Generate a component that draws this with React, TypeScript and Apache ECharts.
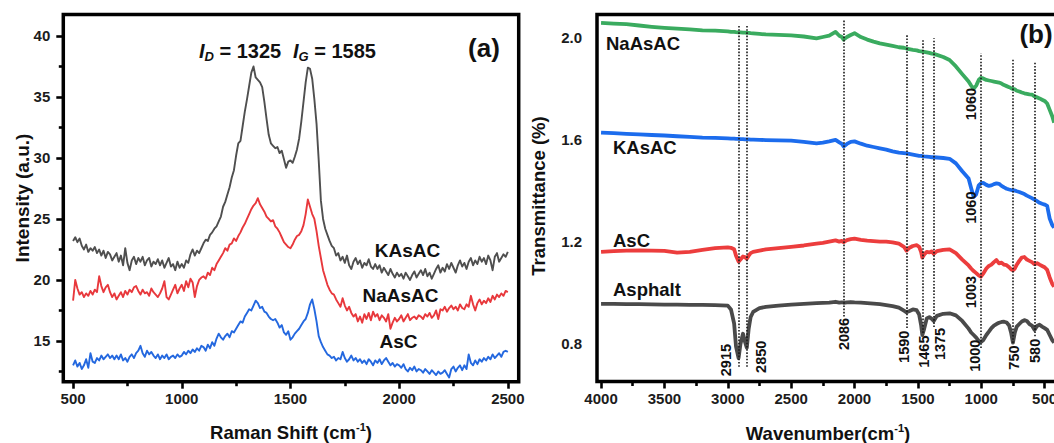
import React, { useEffect, useRef } from 'react';
import * as echarts from 'echarts';

const FONT = '"Liberation Sans", Arial, Helvetica, sans-serif';

// ---------- (a) Raman spectra, sampled every 10 cm-1 from 500 to 2500 ----------
const RAMAN_SHIFT = Array.from({ length: 201 }, (_, i) => 500 + i * 10);

const RAMAN_KASAC = [
  23.2, 23.5, 23.1, 23.4, 22.8, 22.5, 22.9, 22.3, 22.6, 22.4,
  22.7, 22.2, 22.5, 22.0, 22.4, 21.8, 22.3, 22.1, 21.6, 21.9,
  22.2, 21.5, 22.0, 21.2, 22.6, 21.4, 20.8, 21.6, 21.9, 21.3,
  21.8, 21.5, 21.9, 21.2, 21.6, 21.8, 21.1, 21.5, 21.3, 21.7,
  21.2, 21.6, 21.0, 21.4, 21.8, 21.1, 21.3, 20.8, 21.5, 21.0,
  21.3, 21.0, 21.6, 21.4, 22.1, 22.5, 22.0, 22.4, 22.2, 22.6,
  23.0, 23.3, 23.2, 23.7, 23.9, 24.2, 24.4, 24.8, 25.2, 26.0,
  26.4, 27.0, 27.6, 28.4, 29.0, 30.2, 31.2, 31.4, 32.6, 33.8,
  34.8, 35.9, 37.0, 37.5, 36.6, 36.4, 36.2, 35.8, 34.6, 33.2,
  31.9, 31.2, 31.0, 30.8, 30.9, 30.4, 30.6, 29.9, 29.2, 29.7,
  29.8, 29.6, 30.1, 30.7, 31.6, 33.0, 34.6, 36.2, 37.4, 37.3,
  36.5, 34.8, 32.8, 29.8, 26.5, 25.0, 24.2, 23.7, 23.2, 22.8,
  22.6, 22.0, 22.2, 21.6, 21.9, 21.4, 22.0, 21.2, 20.9, 21.5,
  21.8, 21.3, 21.6, 21.0, 21.4, 21.2, 21.7, 21.1, 20.9, 21.3,
  20.9, 21.2, 20.6, 21.0, 20.7, 20.4, 20.9, 20.5, 20.2, 20.6,
  20.3, 20.5, 20.1, 20.6, 20.3, 20.0, 20.4, 20.7, 20.2, 20.5,
  20.8, 20.4, 20.9, 20.3, 20.6, 20.1, 20.5, 20.9, 21.2, 20.6,
  21.0, 20.7, 21.3, 20.9, 21.4, 21.0, 20.6, 21.2, 21.6, 21.1,
  21.4, 20.9, 21.5, 21.8, 21.2, 21.6, 21.3, 21.9, 21.5, 21.8,
  21.3, 22.0, 21.6, 20.8, 21.9, 22.2, 21.5, 21.8, 22.1, 21.9,
  22.3,
];

const RAMAN_NAASAC = [
  18.3, 20.0, 19.3, 18.8, 19.0, 18.6, 18.9, 18.7, 19.1, 18.8,
  19.2, 19.0, 20.3, 19.5, 19.0, 19.4, 19.6, 19.0, 18.6, 18.9,
  18.4, 18.7, 19.0, 18.6, 19.1, 18.8, 19.2, 19.0, 19.4, 19.5,
  19.1, 18.8, 19.2, 18.9, 19.0, 18.7, 19.3, 19.0, 18.8, 18.6,
  18.9, 19.3, 19.9, 18.6, 18.4, 18.8, 19.2, 19.6, 18.9, 19.3,
  19.6, 19.1, 19.9, 19.4, 20.1, 19.8, 18.6, 19.5, 20.0, 20.2,
  20.3, 20.1, 20.6, 20.4, 21.0, 20.8, 21.3, 21.6, 21.9, 22.2,
  22.6, 22.4, 22.9, 23.0, 23.4, 23.2, 23.6, 23.9, 24.3, 24.6,
  25.0, 25.4, 25.8, 26.1, 26.3, 26.7, 26.2, 25.9, 25.6, 25.2,
  25.0, 24.8, 24.9, 24.4, 24.2, 23.9, 23.5, 23.1, 22.9, 22.7,
  22.6, 22.9, 23.3, 23.6, 23.7, 24.0, 24.5, 25.4, 26.6, 26.0,
  25.4, 25.0, 24.0, 22.8, 21.8, 20.8, 20.2, 19.6, 19.2, 18.9,
  18.8, 18.4, 18.1, 17.8, 18.5, 17.9, 17.5, 17.8, 17.3, 17.0,
  17.2, 16.6, 17.0, 16.5, 17.2, 16.8, 17.3, 16.7, 17.4, 17.0,
  17.2, 16.7, 17.1, 16.9, 16.6, 17.2, 16.0, 16.5, 16.9, 16.6,
  16.8, 17.1, 16.6, 16.9, 17.2, 16.7, 16.9, 17.0, 16.8, 17.1,
  17.0, 16.8, 17.2, 17.0, 17.3, 16.9, 17.1, 17.5, 16.8, 17.6,
  17.5, 17.8, 17.4, 17.7, 17.9, 17.6, 17.8, 17.5, 18.0, 17.7,
  17.6, 18.0, 17.8, 18.7, 18.0, 17.5, 18.1, 18.4, 18.0, 18.3,
  18.1, 18.5, 18.2, 18.7, 18.4, 18.8, 18.6, 18.9, 18.7, 19.1,
  19.0,
];

const RAMAN_ASC = [
  13.0, 13.4, 12.9, 13.2, 12.7, 13.0, 13.5, 12.8, 14.0, 13.3,
  13.2, 13.6, 13.4, 13.8, 13.5, 13.7, 13.9, 13.6, 13.8, 13.5,
  13.8, 13.5, 13.9, 13.4, 13.6, 13.3, 13.7, 13.9, 13.6, 14.0,
  14.2, 14.6, 14.0, 13.7, 14.2, 13.9, 14.1, 13.8, 13.6, 13.9,
  13.5, 13.8, 13.6, 13.9, 13.5, 13.7, 13.8, 13.6, 13.9, 13.7,
  13.8, 14.1, 13.9, 14.2, 14.0, 14.3, 14.1, 14.4, 14.2, 14.6,
  14.5, 14.2, 14.7, 14.4, 14.9, 14.6, 15.2, 15.6, 15.3, 15.1,
  15.4, 15.6, 15.3, 15.8, 15.7, 16.0, 16.3, 16.6, 16.5, 17.0,
  17.3, 17.6, 17.5, 17.9, 18.3, 18.1, 17.7, 17.8, 17.4, 17.3,
  17.0, 16.8, 16.7, 16.8, 16.5, 16.1, 16.3, 15.7, 15.5, 15.8,
  15.1, 15.3, 15.6, 15.8, 16.0, 16.3, 16.6, 16.8, 17.3, 18.0,
  18.4, 17.6, 16.6, 15.4, 14.9, 14.5, 14.2, 13.9, 13.8, 13.6,
  13.7, 13.4, 13.6, 13.5, 14.1, 13.6, 13.3, 13.5, 13.8, 13.4,
  13.6, 13.3, 13.5, 13.2, 13.4, 13.1, 13.5, 13.3, 13.0, 13.4,
  13.2, 13.5, 13.1, 13.4, 13.6, 13.3, 13.0, 13.2, 12.9, 13.1,
  13.0, 12.8, 13.1, 12.7, 12.5, 12.8, 12.6, 12.9, 12.5, 12.7,
  12.6, 12.4, 12.7, 12.5, 12.3, 12.6, 12.4, 12.2, 12.5, 12.3,
  12.4, 12.6, 12.3, 12.0, 12.7, 12.9, 12.5, 12.8, 13.0, 12.6,
  13.0, 12.7, 13.9, 13.2, 13.0, 13.4, 13.1, 13.5, 13.3, 13.6,
  13.4, 13.7, 13.5, 13.9, 13.6, 13.8, 14.0, 13.7, 14.1, 14.2,
  14.1,
];

const RAMAN_X_LABELS = [500, 1000, 1500, 2000, 2500];
const RAMAN_X_MINOR = [750, 1250, 1750, 2250];
const RAMAN_Y_LABELS = [15, 20, 25, 30, 35, 40];
const RAMAN_Y_MINOR = [12.5, 17.5, 22.5, 27.5, 32.5, 37.5];

// ---------- (b) FTIR spectra ----------
const FTIR_WAVENUMBER = [
  4000, 3900, 3800, 3700, 3600, 3500, 3400, 3300, 3200, 3100,
  3000, 2975, 2950, 2935, 2915, 2900, 2880, 2865, 2850, 2835,
  2820, 2800, 2750, 2700, 2600, 2500, 2400, 2300, 2250, 2200,
  2150, 2120, 2100, 2086, 2060, 2030, 2000, 1950, 1900, 1850,
  1800, 1750, 1700, 1650, 1610, 1590, 1570, 1540, 1510, 1490,
  1475, 1465, 1450, 1430, 1410, 1390, 1375, 1350, 1300, 1250,
  1200, 1150, 1100, 1080, 1060, 1040, 1020, 1003, 985, 960,
  940, 920, 900, 880, 860, 840, 820, 800, 780, 765,
  750, 735, 720, 700, 680, 660, 640, 620, 600, 580,
  560, 540, 520, 500, 480, 460, 440, 425,
];

const FTIR_NAASAC = [
  2.055, 2.052, 2.05, 2.045, 2.04, 2.036, 2.033, 2.03, 2.026, 2.025,
  2.022, 2.02, 2.02, 2.019, 2.018, 2.018, 2.017, 2.017, 2.016, 2.016,
  2.015, 2.014, 2.012, 2.01, 2.008, 2.006, 2.002, 1.995, 2.0, 2.005,
  2.02, 2.005, 2.0, 1.99, 2.0, 2.008, 2.015, 2.0, 1.99, 1.982,
  1.975, 1.97, 1.965, 1.96, 1.958, 1.955, 1.953, 1.95, 1.948, 1.945,
  1.944, 1.943, 1.942, 1.94, 1.938, 1.935, 1.934, 1.93, 1.922, 1.91,
  1.885, 1.855, 1.826, 1.81, 1.798, 1.81, 1.832, 1.84, 1.838, 1.832,
  1.83, 1.828, 1.826, 1.824, 1.822, 1.818, 1.812, 1.808, 1.804, 1.8,
  1.797, 1.795, 1.79, 1.787, 1.783, 1.78, 1.778, 1.776, 1.775, 1.768,
  1.764, 1.76, 1.755, 1.75, 1.74, 1.715, 1.69, 1.665,
];

const FTIR_KASAC = [
  1.626, 1.624, 1.621, 1.619, 1.617, 1.615, 1.612, 1.61, 1.607, 1.606,
  1.604, 1.603, 1.603, 1.602, 1.602, 1.601, 1.601, 1.6, 1.6, 1.6,
  1.599, 1.599, 1.598, 1.597, 1.596, 1.595, 1.59, 1.584, 1.587, 1.592,
  1.598, 1.588, 1.582, 1.572, 1.582, 1.59, 1.592, 1.583, 1.575, 1.57,
  1.565, 1.56, 1.553, 1.548, 1.546, 1.545, 1.543, 1.54, 1.537, 1.535,
  1.535, 1.534, 1.533, 1.532, 1.531, 1.53, 1.53, 1.529, 1.527, 1.524,
  1.506, 1.475, 1.447, 1.41, 1.375, 1.385, 1.42, 1.428, 1.43, 1.422,
  1.418, 1.42, 1.425, 1.428, 1.426, 1.418, 1.412, 1.407, 1.404, 1.402,
  1.4, 1.4, 1.397, 1.394, 1.39, 1.386, 1.38, 1.375, 1.37, 1.364,
  1.358, 1.352, 1.348, 1.345, 1.34, 1.29, 1.265, 1.255,
];

const FTIR_ASC = [
  1.16, 1.163, 1.165, 1.166, 1.165, 1.164, 1.157, 1.16, 1.168, 1.175,
  1.178, 1.176, 1.17, 1.145, 1.122, 1.13, 1.142, 1.14, 1.133, 1.145,
  1.155, 1.16, 1.165, 1.17, 1.175, 1.18, 1.185, 1.192, 1.195, 1.2,
  1.205, 1.2, 1.203, 1.198, 1.206, 1.21, 1.212, 1.207, 1.204, 1.202,
  1.2, 1.2, 1.197, 1.192, 1.18, 1.165, 1.175, 1.183, 1.186, 1.18,
  1.16, 1.138, 1.15, 1.16, 1.158, 1.162, 1.152, 1.163, 1.168, 1.17,
  1.155, 1.13, 1.107, 1.095, 1.085, 1.077, 1.068, 1.063, 1.075, 1.095,
  1.105, 1.11, 1.12, 1.128, 1.115, 1.118, 1.11, 1.108, 1.1, 1.092,
  1.088, 1.095, 1.11, 1.125, 1.138, 1.14, 1.13, 1.125, 1.12, 1.112,
  1.116, 1.11, 1.105, 1.1, 1.09, 1.06, 1.035, 1.024,
];

const FTIR_ASPHALT = [
  0.957, 0.957, 0.956, 0.956, 0.955, 0.954, 0.954, 0.953, 0.953, 0.952,
  0.95, 0.935, 0.88, 0.79, 0.745, 0.8, 0.84, 0.81, 0.785, 0.86,
  0.905, 0.925, 0.94, 0.945, 0.95, 0.954, 0.957, 0.96, 0.961, 0.962,
  0.965, 0.962, 0.963, 0.961, 0.963, 0.964, 0.963, 0.962, 0.96, 0.958,
  0.956, 0.952, 0.948, 0.942, 0.93, 0.924, 0.928, 0.935, 0.932, 0.915,
  0.875, 0.835, 0.86, 0.9, 0.905, 0.898, 0.89, 0.91, 0.918, 0.92,
  0.912, 0.89, 0.86, 0.845, 0.835, 0.825, 0.812, 0.808, 0.815, 0.835,
  0.848, 0.862, 0.872, 0.878, 0.883, 0.886, 0.887, 0.884, 0.872, 0.845,
  0.805, 0.845, 0.868, 0.878, 0.888, 0.893, 0.89, 0.878, 0.872, 0.855,
  0.87, 0.875, 0.868, 0.862, 0.855, 0.835, 0.815, 0.805,
];

const FTIR_X_LABELS = [500, 1000, 1500, 2000, 2500, 3000, 3500, 4000];
const FTIR_X_MINOR = [750, 1250, 1750, 2250, 2750, 3250, 3750];
const FTIR_Y_LABELS = [0.8, 1.2, 1.6, 2.0];
const FTIR_Y_MINOR = [1.0, 1.4, 1.8];

// Assigned bands: dotted guide from `from` to `to` (transmittance)
const BAND_WAVENUMBERS = [2915, 2850, 2086, 1590, 1465, 1375, 1003, 750, 580];
const BAND_FROM = [0.711, 0.711, 0.907, 0.862, 0.843, 0.866, 0.784, 0.804, 0.83];
const BAND_TO = [2.047, 2.047, 2.069, 2.008, 1.988, 1.995, 1.936, 1.917, 1.903];

// Band captions: text, band wavenumber, transmittance at caption centre, sideways nudge in px
const BAND_CAPTIONS: [string, number, number, number][] = [
  ['2915', 2915, 0.737, -12.5],
  ['2850', 2850, 0.75, 14],
  ['2086', 2086, 0.839, 0],
  ['1590', 1590, 0.789, -2.5],
  ['1465', 1465, 0.77, 1.5],
  ['1375', 1375, 0.8, 6],
  ['1000', 1003, 0.754, -5.5],
  ['750', 750, 0.747, 1],
  ['580', 580, 0.773, 1],
  ['1003', 1003, 1.003, -10],
  ['1060', 1003, 1.333, -10],
  ['1060', 1003, 1.738, -10],
];

const zip = (xs: number[], ys: number[]) => xs.map((x, i) => [x, ys[i]]);

const GRID_A = { left: 63.3, top: 14.5, width: 455.4, height: 367.2 };
const GRID_B = { left: 597, top: 14.5, width: 511, height: 367 };

const tickLine = { color: '#000', width: 2.6 };
const labelFont = { fontSize: 15, fontWeight: 'bold', color: '#1c1c1c', fontFamily: FONT };

function xAxis(gridIndex: number, min: number, max: number, inverse: boolean, ticks: number[], labels: boolean, len: number) {
  return {
    type: 'value', gridIndex, min, max, inverse, position: 'bottom',
    axisLine: { show: false }, splitLine: { show: false },
    axisTick: { show: true, inside: false, length: len, customValues: ticks, lineStyle: tickLine },
    axisLabel: labels
      ? { show: true, customValues: ticks, margin: 9, ...labelFont, formatter: (v: number) => String(v) }
      : { show: false },
  };
}

function yAxis(gridIndex: number, min: number, max: number, ticks: number[], labels: boolean, len: number, margin: number, digits: number) {
  return {
    type: 'value', gridIndex, min, max, position: 'left',
    axisLine: { show: false }, splitLine: { show: false },
    axisTick: { show: true, inside: false, length: len, customValues: ticks, lineStyle: tickLine },
    axisLabel: labels
      ? { show: true, customValues: ticks, margin, ...labelFont, formatter: (v: number) => v.toFixed(digits) }
      : { show: false },
  };
}

function line(name: string, x: number, data: number[][], color: string, width: number, extra: any = {}) {
  return {
    name, type: 'line', xAxisIndex: x, yAxisIndex: x, data,
    showSymbol: false, symbol: 'none', smooth: false,
    lineStyle: { color, width, join: 'round' }, itemStyle: { color },
    emphasis: { disabled: true }, silent: true, z: 2,
    ...extra,
  };
}

function buildOption() {
  return {
    animation: false,
    backgroundColor: '#ffffff',
    grid: [
      { ...GRID_A, show: true, borderColor: '#000', borderWidth: 3.5, backgroundColor: 'transparent', outerBoundsMode: 'none' },
      { ...GRID_B, show: true, borderColor: '#000', borderWidth: 3.5, backgroundColor: 'transparent', outerBoundsMode: 'none' },
      { ...GRID_A, show: false, outerBoundsMode: 'none' },
      { ...GRID_B, show: false, outerBoundsMode: 'none' },
    ],
    xAxis: [
      xAxis(0, 455, 2550, false, RAMAN_X_LABELS, true, 7),
      xAxis(1, 0, 4032, true, FTIR_X_LABELS, true, 7),
      xAxis(2, 455, 2550, false, RAMAN_X_MINOR, false, 4.5),
      xAxis(3, 0, 4032, true, FTIR_X_MINOR, false, 4.5),
    ],
    yAxis: [
      yAxis(0, 11.66, 41.76, RAMAN_Y_LABELS, true, 7, 13, 0),
      yAxis(1, 0.6533, 2.088, FTIR_Y_LABELS, true, 7, 15, 1),
      yAxis(2, 11.66, 41.76, RAMAN_Y_MINOR, false, 4.5, 13, 0),
      yAxis(3, 0.6533, 2.088, FTIR_Y_MINOR, false, 4.5, 15, 1),
    ],
    series: [
      line('KAsAC', 0, zip(RAMAN_SHIFT, RAMAN_KASAC), '#4f4f4f', 1.9),
      line('NaAsAC', 0, zip(RAMAN_SHIFT, RAMAN_NAASAC), '#e8383c', 1.9),
      line('AsC', 0, zip(RAMAN_SHIFT, RAMAN_ASC), '#2468df', 1.9),
      line('NaAsAC', 1, zip(FTIR_WAVENUMBER, FTIR_NAASAC), '#3aab5f', 3.8),
      line('KAsAC', 1, zip(FTIR_WAVENUMBER, FTIR_KASAC), '#1c6ced', 3.8),
      line('AsC', 1, zip(FTIR_WAVENUMBER, FTIR_ASC), '#ec3d3d', 3.8),
      line('Asphalt', 1, zip(FTIR_WAVENUMBER, FTIR_ASPHALT), '#4a4a4a', 3.8, {
        markLine: {
          silent: true,
          symbol: ['none', 'none'],
          label: { show: false },
          emphasis: { disabled: true },
          lineStyle: { type: 'dotted', color: '#1a1a1a', width: 1.6 },
          data: BAND_WAVENUMBERS.map((w, i) => [
            { coord: [w, BAND_FROM[i]] },
            { coord: [w, BAND_TO[i]] },
          ]),
        },
      }),
    ],
  };
}

function text(x: number, y: number, str: string, size: number, opts: any = {}) {
  const { align = 'center', rotation = 0, weight = 'bold', rich } = opts;
  return {
    type: 'text', x, y, rotation, z: 10, silent: true,
    style: {
      text: str, fill: '#111', fontSize: size, fontWeight: weight, fontFamily: FONT,
      align, textAlign: align, verticalAlign: 'middle', textVerticalAlign: 'middle',
      ...(rich ? { rich } : {}),
    },
  };
}

const peakRich = {
  i: { fontSize: 20, fontStyle: 'italic', fontWeight: 'bold', fontFamily: FONT, fill: '#111', lineHeight: 24 },
  s: { fontSize: 13, fontStyle: 'italic', fontWeight: 'bold', fontFamily: FONT, fill: '#111', lineHeight: 14, verticalAlign: 'bottom' },
  n: { fontSize: 20, fontWeight: 'bold', fontFamily: FONT, fill: '#111', lineHeight: 24 },
};

const titleRich = {
  t: { fontSize: 18.5, fontWeight: 'bold', fontFamily: FONT, fill: '#111', lineHeight: 22 },
  u: { fontSize: 11, fontWeight: 'bold', fontFamily: FONT, fill: '#111', lineHeight: 12, verticalAlign: 'top' },
};

function buildGraphics(chart: echarts.ECharts) {
  const els: any[] = [];
  // panel (a)
  els.push(text(407.5, 250, 'KAsAC', 19));
  els.push(text(400.5, 295.5, 'NaAsAC', 19));
  els.push(text(398.5, 341.5, 'AsC', 19));
  els.push(text(484, 47.5, '(a)', 26));
  els.push(text(199, 51, '{i|I}{s|D}{n| = 1325}', 20, { align: 'left', rich: peakRich }));
  els.push(text(293, 51, '{i|I}{s|G}{n| = 1585}', 20, { align: 'left', rich: peakRich }));
  els.push(text(22, 198, 'Intensity (a.u.)', 19, { rotation: Math.PI / 2 }));
  els.push(text(291, 432, '{t|Raman Shift (cm}{u|-1}{t|)}', 18.5, { rich: titleRich }));

  // panel (b)
  els.push(text(606, 43, 'NaAsAC', 18.5, { align: 'left' }));
  els.push(text(613, 147, 'KAsAC', 18.5, { align: 'left' }));
  els.push(text(613, 240, 'AsC', 18.5, { align: 'left' }));
  els.push(text(613, 289, 'Asphalt', 18.5, { align: 'left' }));
  els.push(text(1036, 33.5, '(b)', 26));
  els.push(text(538, 196, 'Transmittance (%)', 18.5, { rotation: Math.PI / 2 }));
  els.push(text(828, 433, '{t|Wavenumber(cm}{u|-1}{t|)}', 18.5, { rich: titleRich }));

  BAND_CAPTIONS.forEach(([label, w, t, dx]) => {
    const p = chart.convertToPixel({ gridIndex: 1 }, [w, t]) as number[];
    if (!p) return;
    els.push(text(p[0] + dx, p[1], label, 14.5, { rotation: Math.PI / 2 }));
  });
  return els;
}

export default function App() {
  const ref = useRef<HTMLDivElement>(null);
  useEffect(() => {
    if (!ref.current) return;
    const chart = echarts.init(ref.current, null, { renderer: 'svg' });
    chart.setOption(buildOption());
    chart.setOption({ graphic: buildGraphics(chart) });
    return () => chart.dispose();
  }, []);
  return (
    <div
      ref={ref}
      style={{ position: 'fixed', left: 0, top: 0, width: 1054, height: 443, background: '#fff' }}
    />
  );
}
